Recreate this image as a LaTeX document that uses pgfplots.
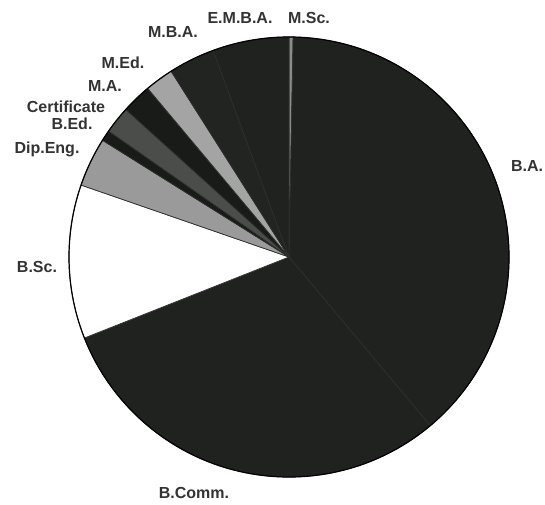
\documentclass[border=0pt]{standalone}
\usepackage{pgfplots}
\pgfplotsset{compat=1.18}
\usepackage{pgfplotstable}
\usepackage{fontspec}
\setmainfont{Liberation Sans}

\definecolor{cdark}{HTML}{1F221F}
\definecolor{cdarkb}{HTML}{212421}
\definecolor{cblack}{HTML}{191B19}
\definecolor{cmsc}{HTML}{8C8C8C}
\definecolor{cwhite}{HTML}{FFFFFF}
\definecolor{cdip}{HTML}{9A9A9A}
\definecolor{ccert}{HTML}{4B4D4B}
\definecolor{cmed}{HTML}{A4A4A4}
\definecolor{edge}{HTML}{2C2F2C}
\definecolor{labtext}{HTML}{333333}

% share in percent, slices clockwise from 12 o'clock; lx/ly = label centre in px
\pgfplotstableread[col sep=comma]{
label,value,color,lx,ly
M.Sc.,0.3,cmsc,309,18
B.A.,38.6,cdark,527,166
B.Comm.,30.1,cdark,194,493
B.Sc.,11.3,cwhite,37,267
Dip.Eng.,3.6,cdip,47,149
B.Ed.,0.8,cblack,72,124
Certificate,2.0,ccert,66,107
M.A.,2.2,cblack,105,86
M.Ed.,2.1,cmed,123,63
M.B.A.,3.4,cdarkb,173,32
E.M.B.A.,5.6,cdark,240,18
}\piedata

\begin{document}
\begin{tikzpicture}
\begin{axis}[
    scale only axis,
    width=545pt, height=504pt,
    xmin=0, xmax=545,
    ymin=0, ymax=504,
    hide axis,
    clip=false,
]
\path (rel axis cs:0,0) rectangle (rel axis cs:1,1);
\pgfplotstablegetrowsof{\piedata}
\pgfmathtruncatemacro\lastrow{\pgfplotsretval-1}
\def\cumul{0}
\pgfplotsforeachungrouped \i in {0,...,\lastrow}{
    \pgfplotstablegetelem{\i}{value}\of\piedata \let\val\pgfplotsretval
    \pgfplotstablegetelem{\i}{color}\of\piedata \let\col\pgfplotsretval
    \pgfplotstablegetelem{\i}{label}\of\piedata \let\lab\pgfplotsretval
    \pgfplotstablegetelem{\i}{lx}\of\piedata \let\lx\pgfplotsretval
    \pgfplotstablegetelem{\i}{ly}\of\piedata \let\ly\pgfplotsretval
    \pgfmathsetmacro\aa{90-3.6*\cumul}
    \pgfmathsetmacro\bb{90-3.6*(\cumul+\val)}
    \pgfmathsetmacro\cumul{\cumul+\val}
    \pgfmathsetmacro\ny{504-\ly}
    \edef\temp{%
        \noexpand\filldraw[fill=\col, draw=edge, line width=0.7pt]
            (axis cs:289,247) -- ++(\aa:220pt)
            arc[start angle=\aa, end angle=\bb, radius=220pt] -- cycle;
        \noexpand\node[text=labtext, font=\noexpand\bfseries\noexpand\fontsize{16}{16}\noexpand\selectfont, inner sep=0pt]
            at (axis cs:\lx,\ny) {\lab};
    }
    \temp
}
\draw[black, line width=1.2pt] (axis cs:289,247) circle[radius=220pt];
\end{axis}
\end{tikzpicture}
\end{document}
